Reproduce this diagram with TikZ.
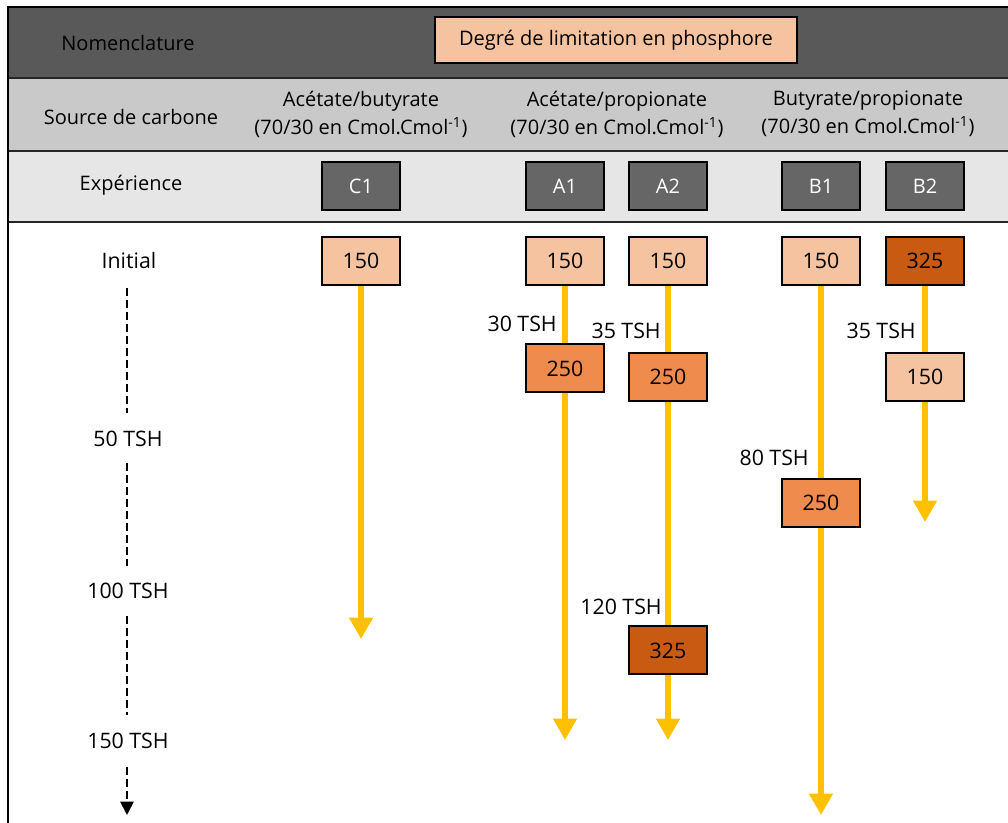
\documentclass[tikz,border=0pt]{standalone}
\usepackage{fontspec}
\setmainfont{Open Sans}
\usetikzlibrary{arrows.meta}
\definecolor{bandA}{HTML}{595959}
\definecolor{bandB}{HTML}{C9C9C9}
\definecolor{bandC}{HTML}{E6E6E6}
\definecolor{expgray}{HTML}{666666}
\definecolor{peach}{HTML}{F5C3A0}
\definecolor{midorange}{HTML}{F08B4E}
\definecolor{darkorange}{HTML}{C85A12}
\definecolor{flow}{HTML}{FFC000}
\tikzset{
  hdr/.style={font=\fontsize{15}{21}\selectfont, text=black, align=center},
  expbox/.style={draw=black, line width=1.5pt, fill=expgray, text=white, minimum width=58pt, minimum height=36pt, inner sep=0pt, font=\fontsize{15}{18}\selectfont},
  pbox/.style={draw=black, line width=1.5pt, minimum width=58pt, minimum height=36pt, inner sep=0pt, font=\fontsize{16}{18}\selectfont},
  lowP/.style={pbox, fill=peach},
  midP/.style={pbox, fill=midorange},
  highP/.style={pbox, fill=darkorange},
  tlabel/.style={font=\fontsize{16}{18}\selectfont, inner sep=0pt, anchor=east},
  rowlabel/.style={font=\fontsize{16}{18}\selectfont, inner sep=0pt},
  flowline/.style={draw=flow, line width=4.5pt},
  flowarrow/.style={flowline, -{Triangle[width=17pt,length=16pt]}},
  timeline/.style={draw=black, line width=1.4pt, dash pattern=on 6pt off 3pt},
}
\begin{document}
\begin{tikzpicture}[x=0.75pt, y=-0.75pt]
\useasboundingbox (0,0) rectangle (1008,823);
% bands
\fill[bandA] (8,7) rectangle (1008,78);
\fill[bandB] (8,78) rectangle (1008,151);
\fill[bandC] (8,151) rectangle (1008,222);
\draw[line width=1.5pt, black!85] (8,78) -- (1008,78);
\draw[line width=1.5pt, black!85] (8,151) -- (1008,151);
\draw[line width=1.5pt, black!85] (8,222.5) -- (1008,222.5);
\draw[line width=1.5pt, black] (1008,7) -- (8,7) -- (8,823);

% header row
\node[hdr] (nom) at (128,43) {Nomenclature};
\node[draw=black, line width=1.5pt, fill=peach, minimum width=271pt, minimum height=34.5pt, inner sep=0pt, font=\fontsize{15}{18}\selectfont] (deg) at (616,40) {Degré de limitation en phosphore};

\node[hdr] (src) at (131,117) {Source de carbone};
\node[hdr] (ab) at (361,114) {Acétate/butyrate\\(70/30 en Cmol.Cmol\textsuperscript{-1})};
\node[hdr] (ap) at (617,114) {Acétate/propionate\\(70/30 en Cmol.Cmol\textsuperscript{-1})};
\node[hdr] (bp) at (868,114) {Butyrate/propionate\\(70/30 en Cmol.Cmol\textsuperscript{-1})};

\node[hdr] (exp) at (131,185) {Expérience};
\node[expbox] (C1) at (361,186) {C1};
\node[expbox] (A1) at (565,186) {A1};
\node[expbox] (A2) at (668,186) {A2};
\node[expbox] (B1) at (821,186) {B1};
\node[expbox] (B2) at (925,186) {B2};

% time axis
\node[rowlabel] (t0) at (129,261) {Initial};
\node[rowlabel] (t50) at (128,439) {50 TSH};
\node[rowlabel] (t100) at (128,591) {100 TSH};
\node[rowlabel] (t150) at (128,741) {150 TSH};
\coordinate (tend) at (127,815);
\draw[timeline] (127,288) -- (127,413);
\draw[timeline] (127,463) -- (127,566);
\draw[timeline] (127,616) -- (127,715);
\draw[timeline, -{Triangle[width=10pt,length=10pt]}] (127,767) -- (tend);

% C1
\node[lowP] (c1a) at (361,261) {150};
\coordinate (c1end) at (361,639);
\draw[flowarrow] (c1a.south) -- (c1end);

% A1
\node[lowP] (a1a) at (565,261) {150};
\node[midP] (a1b) at (565,368.5) {250};
\coordinate (a1end) at (565,740);
\draw[flowline] (a1a.south) -- (a1b.north);
\draw[flowarrow] (a1b.south) -- (a1end);
\node[tlabel] (a1l) at (557,324) {30 TSH};

% A2
\node[lowP] (a2a) at (668,261) {150};
\node[midP] (a2b) at (668,377) {250};
\node[highP] (a2c) at (668,650.5) {325};
\coordinate (a2end) at (668,740);
\draw[flowline] (a2a.south) -- (a2b.north);
\draw[flowline] (a2b.south) -- (a2c.north);
\draw[flowarrow] (a2c.south) -- (a2end);
\node[tlabel] (a2l) at (661,331) {35 TSH};
\node[tlabel] (a2m) at (662,607) {120 TSH};

% B1
\node[lowP] (b1a) at (821,261) {150};
\node[midP] (b1b) at (821,503) {250};
\coordinate (b1end) at (821,815);
\draw[flowline] (b1a.south) -- (b1b.north);
\draw[flowarrow] (b1b.south) -- (b1end);
\node[tlabel] (b1l) at (809,458) {80 TSH};

% B2
\node[highP] (b2a) at (925,261) {325};
\node[lowP] (b2b) at (925,377) {150};
\coordinate (b2end) at (925,522);
\draw[flowline] (b2a.south) -- (b2b.north);
\draw[flowarrow] (b2b.south) -- (b2end);
\node[tlabel] (b2l) at (916,331) {35 TSH};
\end{tikzpicture}
\end{document}
